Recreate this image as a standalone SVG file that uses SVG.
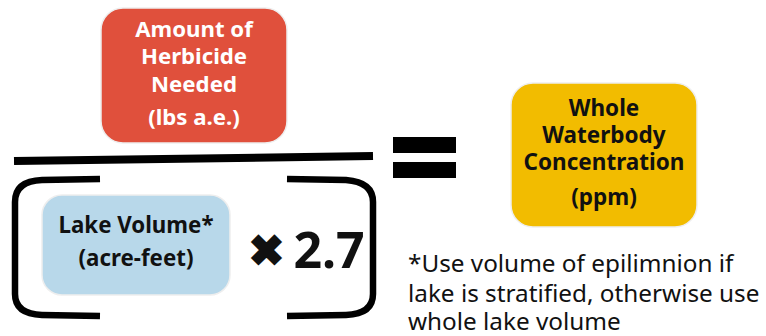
<svg xmlns="http://www.w3.org/2000/svg" width="766" height="336" viewBox="0 0 766 336">
<style>
.box{stroke:#eeeeee;stroke-width:1.5}
.bt{font-family:"Noto Sans","Open Sans",sans-serif;font-weight:bold;text-anchor:middle}
.w{fill:#ffffff}
.k{fill:#111111}
.br{fill:none;stroke:#000;stroke-width:6.5;stroke-linecap:butt;stroke-linejoin:round}
.fn{font-family:"Noto Sans","Open Sans",sans-serif;font-size:24.3px;fill:#111}
</style>
<rect width="766" height="336" fill="#ffffff"/>
<g id="herbicide">
<rect class="box" x="101" y="8" width="186" height="135" rx="22" fill="#e0503c"/>
<text class="bt w" font-size="22.2" x="194" y="37">Amount of</text>
<text class="bt w" font-size="22.2" x="194" y="64">Herbicide</text>
<text class="bt w" font-size="22.2" x="194" y="92">Needed</text>
<text class="bt w" font-size="22.2" x="194" y="125">(lbs a.e.)</text>
</g>
<g id="fraction-bar">
<path d="M14,161 L373,156" stroke="#000" stroke-width="8" fill="none"/>
</g>
<g id="brackets">
<path class="br" d="M100,179 L42,180 Q15,181 15,202 L15,294 Q15,314 42,315 L100,316"/>
<path class="br" d="M287,179 L346,180 Q373,182 373,202 L373,294 Q373,314 346,315 L287,316"/>
</g>
<g id="lake-volume">
<rect class="box" x="42" y="195" width="188" height="100" rx="20" fill="#b8d8ea"/>
<text class="bt k" font-size="22.3" x="136" y="233">Lake Volume*</text>
<text class="bt k" font-size="22.3" x="136" y="266">(acre-feet)</text>
</g>
<g id="multiplier">
<text class="bt k" font-size="44" x="266.5" y="266">✖</text>
<text class="bt k" font-size="50" x="329" y="268">2.7</text>
</g>
<g id="equals">
<rect x="393" y="137" width="63" height="16" fill="#000"/>
<rect x="393" y="162" width="63" height="16" fill="#000"/>
</g>
<g id="concentration">
<rect class="box" x="511" y="83" width="186" height="144" rx="22" fill="#f2bc00"/>
<text class="bt k" font-size="22.5" x="604" y="116">Whole</text>
<text class="bt k" font-size="22.5" x="604" y="143">Waterbody</text>
<text class="bt k" font-size="22.5" x="604" y="170">Concentration</text>
<text class="bt k" font-size="22.5" x="604" y="205">(ppm)</text>
</g>
<g id="footnote">
<text class="fn" x="408" y="272">*Use volume of epilimnion if</text>
<text class="fn" x="408" y="302">lake is stratified, otherwise use</text>
<text class="fn" x="408" y="330">whole lake volume</text>
</g>
</svg>
